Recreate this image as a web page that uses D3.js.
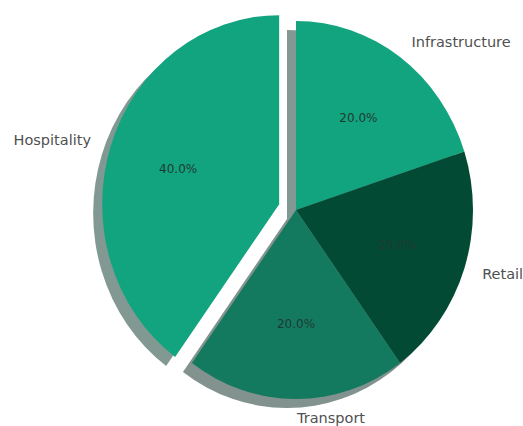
<!DOCTYPE html>
<html>
<head>
<meta charset="utf-8">
<script src="https://cdn.jsdelivr.net/npm/d3@7"></script>
<style>
  body { margin: 0; background: #fff; }
  text { font-family: "DejaVu Sans", sans-serif; }
</style>
</head>
<body>
<div id="chart"></div>
<script>
// slices, clockwise from 12 o'clock
const sectors = ['Infrastructure', 'Retail', 'Transport', 'Hospitality'];
const shares = [20, 20, 20, 40];
const explode = [0, 0, 0, 0.1];
const colors = ['#12a47f', '#024a34', '#137a60', '#12a47f'];

const width = 523, height = 426;
const cx = 296, cy = 210;
const rx = 177, ry = 189;   // picture is a bit squeezed sideways

const svg = d3.select('#chart')
    .append('svg')
    .attr('width', width)
    .attr('height', height);

const pie = d3.pie().sort(null).value(d => d.value);
const arcs = pie(sectors.map((s, i) => ({ name: s, value: shares[i], explode: explode[i], color: colors[i] })));
const total = d3.sum(shares);

const arc = d3.arc().innerRadius(0).outerRadius(ry);

// unit direction of a wedge's middle
function dir(d) {
    const a = (d.startAngle + d.endAngle) / 2;
    return [Math.sin(a), -Math.cos(a)];
}
// screen centre of a wedge (after explode)
function centre(d) {
    const [ux, uy] = dir(d);
    return [cx + ux * d.data.explode * rx, cy + uy * d.data.explode * ry];
}

function shadowColor(c) {
    const rgb = d3.rgb(c);
    return d3.rgb(rgb.r * 0.3, rgb.g * 0.3, rgb.b * 0.3).toString();
}

// shadows first, under every wedge
svg.append('g')
    .selectAll('path')
    .data(arcs)
    .enter()
    .append('path')
    .attr('transform', d => {
        const [x, y] = centre(d);
        return `translate(${x - 9},${y + 9}) scale(${rx / ry},1)`;
    })
    .attr('d', arc)
    .attr('fill', d => shadowColor(d.data.color))
    .attr('opacity', 0.5);

svg.append('g')
    .selectAll('path')
    .data(arcs)
    .enter()
    .append('path')
    .attr('transform', d => {
        const [x, y] = centre(d);
        return `translate(${x},${y}) scale(${rx / ry},1)`;
    })
    .attr('d', arc)
    .attr('fill', d => d.data.color);

// category labels at 1.1 r
svg.append('g')
    .selectAll('text')
    .data(arcs)
    .enter()
    .append('text')
    .attr('x', d => centre(d)[0] + dir(d)[0] * 1.1 * rx + (dir(d)[0] > 0 ? 1 : -3))
    .attr('y', d => centre(d)[1] + dir(d)[1] * 1.1 * ry)
    .attr('dy', '0.35em')
    .attr('text-anchor', d => dir(d)[0] > 0 ? 'start' : 'end')
    .attr('font-size', 14.5)
    .attr('fill', '#505050')
    .text(d => d.data.name);

// percentages at 0.6 r
svg.append('g')
    .selectAll('text')
    .data(arcs)
    .enter()
    .append('text')
    .attr('x', d => centre(d)[0] + dir(d)[0] * 0.6 * rx)
    .attr('y', d => centre(d)[1] + dir(d)[1] * 0.6 * ry)
    .attr('dy', '0.35em')
    .attr('text-anchor', 'middle')
    .attr('font-size', 12)
    .attr('fill', '#1f3a32')
    .text(d => (d.data.value / total * 100).toFixed(1) + '%');
</script>
</body>
</html>
